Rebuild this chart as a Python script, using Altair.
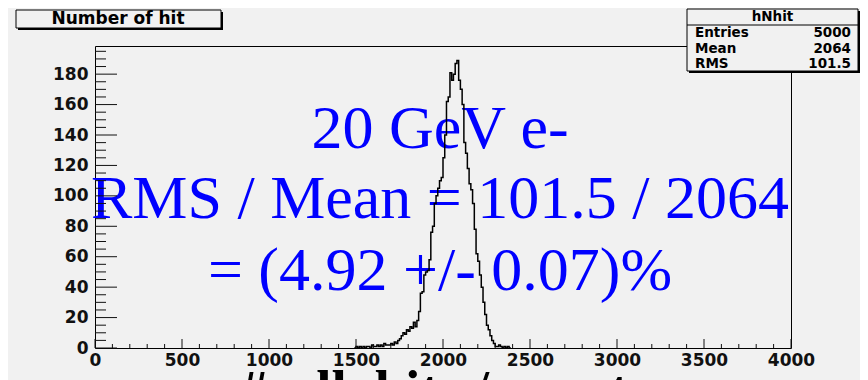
import altair as alt
import pandas as pd

# ---------------- data ----------------
hist_first_edge = 1490          # left edge of first listed bin
hist_bin_width = 10
hist_counts = [
    0, 1, 0, 1, 0, 1, 0, 1, 1, 0,          # 1490-1580
    2, 1, 1, 2, 1, 2, 1, 3, 2, 2,          # 1590-1680
    2, 3, 2, 4, 3, 5, 6, 8, 10, 9,         # 1690-1780
    12, 11, 14, 13, 17, 14, 18, 24, 36, 37,  # 1790-1880
    48, 50, 51, 58, 76, 80, 95, 100, 105, 110,  # 1890-1980
    112, 125, 140, 162, 165, 181, 176, 180, 187, 189,  # 1990-2080
    176, 170, 160, 135, 128, 118, 108, 104, 95, 78,  # 2090-2180
    62, 57, 48, 40, 30, 22, 15, 12, 8, 5,  # 2190-2280
    3, 1, 1, 2, 1, 0, 1, 0, 1, 0,          # 2290-2380
]
x_major = [0, 500, 1000, 1500, 2000, 2500, 3000, 3500, 4000]
x_minor = [v for v in range(100, 4000, 100) if v % 500 != 0]
y_major = [0, 20, 40, 60, 80, 100, 120, 140, 160, 180]
y_minor = [v for v in range(5, 200, 5) if v % 20 != 0]

hist_title = "Number of hit"
stats_title = "hNhit"
stats_names = ["Entries", "Mean", "RMS"]
stats_values = ["5000", "2064", "101.5"]
x_title = "#cell_hits / event"
annotation = ["20 GeV e-", "RMS / Mean = 101.5 / 2064", "= (4.92 +/- 0.07)%"]

# ---------------- chart ----------------
W, H = 696, 302
xs = alt.Scale(domain=[0, 4000], nice=False, zero=False)
ys = alt.Scale(domain=[0, 198.5], nice=False)

edges = [hist_first_edge + i * hist_bin_width for i in range(len(hist_counts) + 1)]
hist_df = pd.DataFrame({"x": edges, "n": hist_counts + [0]})

LBL = dict(labelFont="DejaVu Sans", labelFontWeight="bold", labelFontSize=17,
           labelColor="#111", ticks=False, domain=False, grid=False, title=None,
           format="d", labelOverlap=False)
XAX = alt.Axis(values=x_major, labelPadding=4, labelFlush=False, **LBL)
YAX = alt.Axis(values=y_major, labelPadding=7, **LBL)

hist = alt.Chart(hist_df).mark_line(interpolate="step-after", color="#000",
                                    strokeWidth=1.5).encode(
    x=alt.X("x:Q", scale=xs, axis=XAX),
    y=alt.Y("n:Q", scale=ys, axis=YAX),
)


def rules_x(vals, length):
    return alt.Chart(pd.DataFrame({"v": vals})).mark_rule(color="#111", strokeWidth=1).encode(
        x=alt.X("v:Q", scale=xs, axis=XAX), y=alt.value(H), y2=alt.value(H - length))


def rules_y(vals, length):
    return alt.Chart(pd.DataFrame({"v": vals})).mark_rule(color="#111", strokeWidth=1).encode(
        y=alt.Y("v:Q", scale=ys, axis=YAX), x=alt.value(0), x2=alt.value(length))


def label(text, x, y, **mk):
    return alt.Chart(pd.DataFrame({"t": [text]})).mark_text(**mk).encode(
        text="t:N", x=alt.value(x), y=alt.value(y))


def box(x, x2, y, y2, **mk):
    return alt.Chart(pd.DataFrame({"a": [0]})).mark_rect(**mk).encode(
        x=alt.value(x), x2=alt.value(x2), y=alt.value(y), y2=alt.value(y2))


def hline(x, x2, y, **mk):
    return alt.Chart(pd.DataFrame({"a": [0]})).mark_rule(**mk).encode(
        x=alt.value(x), x2=alt.value(x2), y=alt.value(y))


BLUE = dict(font="Liberation Serif", fontSize=62, color="#0000ff", align="center",
            baseline="alphabetic")
blue_layers = [
    label(annotation[0], 345, 102, **BLUE),
    label(annotation[1], 345, 172, **BLUE),
    label(annotation[2], 345, 244, **BLUE),
]

SANS = dict(font="DejaVu Sans", fontWeight="bold", fontSize=13.5, color="#000",
            baseline="middle")

# title box
title_layers = [
    box(-77, 128, -34, -16, fill="#000"),
    box(-79, 126, -36, -18, fill="#f1f1f1", stroke="#000", strokeWidth=1),
    label(hist_title, 23, -27, align="center", **dict(SANS, fontSize=17)),
]

# stats box
sx0, sx1, sy0, sy1 = 592, 763, -37, 25
stats_layers = [
    box(sx0 + 2, sx1 + 2, sy0 + 2, sy1 + 2, fill="#000"),
    box(sx0, sx1, sy0, sy1, fill="#f1f1f1", stroke="#000", strokeWidth=1),
    hline(sx0, sx1, -21, color="#000", strokeWidth=1),
    label(stats_title, (sx0 + sx1) / 2, -29, align="center", **SANS),
]
for i, (nm, vl) in enumerate(zip(stats_names, stats_values)):
    yy = -13 + i * 15.5
    stats_layers.append(label(nm, 600, yy, align="left", **SANS))
    stats_layers.append(label(vl, 756, yy, align="right", **SANS))

xtitle = label(x_title, 145, 362, font="Liberation Serif", fontWeight="bold",
               fontSize=55, color="#000", align="left", baseline="alphabetic")

chart = alt.layer(
    *blue_layers,
    hist,
    rules_x(x_major, 9), rules_x(x_minor, 4),
    rules_y(y_major, 22), rules_y(y_minor, 11),
    *title_layers,
    *stats_layers,
    xtitle,
).properties(
    width=W, height=H,
    autosize=alt.AutoSizeParams(type="none"),
    padding={"left": 87, "top": 38, "right": 69, "bottom": 32},
    background="#f1f1f1",
).configure_view(stroke="#000", strokeWidth=1)

chart.save("out.html", embed_options={"renderer": "svg", "actions": False})
